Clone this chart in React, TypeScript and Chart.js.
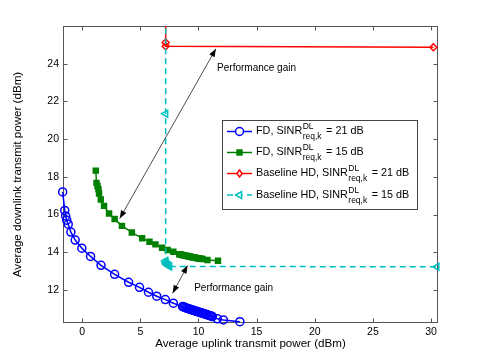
import React, { useEffect, useRef } from "react";
import { Chart, registerables } from "chart.js";

Chart.register(...registerables);

// ---- data ----
const xTicks = [0, 5, 10, 15, 20, 25, 30];
const yTicks = [12, 14, 16, 18, 20, 22, 24];

const fd21X = [-1.68, -1.5, -1.42, -1.33, -1.2, -0.97, -0.6, -0.03, 0.72, 1.62, 2.79, 3.99, 4.93, 5.7, 6.41, 7.15, 7.84,
  8.63, 8.73, 8.83, 8.93, 9.03, 9.13, 9.23, 9.33, 9.43, 9.53, 9.63, 9.73, 9.83, 9.93, 10.03, 10.13, 10.23, 10.33, 10.43,
  10.53, 10.63, 10.73, 10.83, 10.93, 11.03, 11.13, 11.2, 11.62, 12.14, 13.56];
const fd21Y = [17.2, 16.22, 15.93, 15.7, 15.49, 15.07, 14.65, 14.22, 13.78, 13.31, 12.83, 12.41, 12.14, 11.88, 11.67, 11.49, 11.3,
  11.12, 11.1, 11.08, 11.05, 11.03, 11.01, 10.99, 10.97, 10.95, 10.93, 10.91, 10.89, 10.87, 10.85, 10.83, 10.81, 10.79, 10.77, 10.75,
  10.73, 10.71, 10.69, 10.67, 10.65, 10.63, 10.61, 10.59, 10.47, 10.41, 10.32];

const fd15X = [1.17, 1.23, 1.32, 1.4, 1.45, 1.6, 1.88, 2.31, 2.79, 3.42, 4.27, 5.16, 5.79, 6.3, 6.87, 7.35, 7.84,
  8.35, 8.45, 8.55, 8.65, 8.75, 8.85, 8.95, 9.05, 9.15, 9.25, 9.35, 9.45, 9.55, 9.65, 9.75, 9.85, 9.95, 10.05, 10.15,
  10.25, 10.34, 10.77, 11.68];
const fd15Y = [18.33, 17.68, 17.52, 17.34, 17.12, 16.8, 16.46, 16.06, 15.76, 15.4, 15.05, 14.74, 14.56, 14.42, 14.24, 14.12, 14.03,
  13.9, 13.88, 13.87, 13.85, 13.84, 13.82, 13.81, 13.8, 13.78, 13.77, 13.76, 13.74, 13.73, 13.72, 13.71, 13.69, 13.68, 13.67, 13.66,
  13.65, 13.64, 13.59, 13.55];

const hd21X = [7.18, 7.18, 7.18, 30.2];
const hd21Y = [28, 25.12, 24.93, 24.87];

const hd15X = [7.18, 7.18, 7.18, 7.2, 7.25, 7.32, 7.42, 7.52, 30.5];
const hd15Y = [28, 21.35, 13.55, 13.46, 13.38, 13.32, 13.28, 13.25, 13.23];

const legendPrefix = ["FD, SINR", "FD, SINR", "Baseline HD, SINR", "Baseline HD, SINR"];
const legendSup = "DL";
const legendSub = "req,k";
const legendSuffix = [" = 21 dB", " = 15 dB", " = 21 dB", " = 15 dB"];

const arrowFrom = [[3.23, 15.79], [7.78, 11.83]];
const arrowTo = [[11.5, 24.79], [9.06, 13.3]];
const gainText = "Performance gain";
const gainPos = [[11.6, 23.75], [9.63, 12.1]];

const xTitle = "Average uplink transmit power (dBm)";
const yTitle = "Average downlink transmit power (dBm)";

// ---- styles ----
const FONT = "'Liberation Sans', Arial, Helvetica, sans-serif";
const colors = ["#0000ff", "#008000", "#ff0000", "#00bfbf"];
const styles = ["circle", "rect", "rectRot", "triangle"];
const radii = [4, 3.5, 3.5, 4];
const rotations = [0, 0, 0, -90];
const dashes = [[], [], [], [6, 4]];

const toPts = (xs: number[], ys: number[]) => xs.map((v, i) => ({ x: v, y: ys[i] }));

function drawMarker(ctx: CanvasRenderingContext2D, style: string, x: number, y: number, r: number, color: string, fill: string) {
  ctx.save();
  ctx.strokeStyle = color;
  ctx.fillStyle = fill;
  ctx.lineWidth = 1.5;
  ctx.setLineDash([]);
  ctx.beginPath();
  if (style === "circle") {
    ctx.arc(x, y, r, 0, Math.PI * 2);
  } else if (style === "rect") {
    const s = r * Math.SQRT1_2;
    ctx.rect(x - s, y - s, 2 * s, 2 * s);
  } else if (style === "rectRot") {
    ctx.moveTo(x, y - r);
    ctx.lineTo(x + r * 0.75, y);
    ctx.lineTo(x, y + r);
    ctx.lineTo(x - r * 0.75, y);
    ctx.closePath();
  } else {
    ctx.moveTo(x - r, y);
    ctx.lineTo(x + r * 0.5, y - r * 0.87);
    ctx.lineTo(x + r * 0.5, y + r * 0.87);
    ctx.closePath();
  }
  ctx.fill();
  ctx.stroke();
  ctx.restore();
}

function drawArrowHead(ctx: CanvasRenderingContext2D, x1: number, y1: number, x2: number, y2: number) {
  const ang = Math.atan2(y2 - y1, x2 - x1);
  const len = 8, hw = 3;
  ctx.beginPath();
  ctx.moveTo(x2, y2);
  ctx.lineTo(x2 - len * Math.cos(ang) + hw * Math.sin(ang), y2 - len * Math.sin(ang) - hw * Math.cos(ang));
  ctx.lineTo(x2 - len * Math.cos(ang) - hw * Math.sin(ang), y2 - len * Math.sin(ang) + hw * Math.cos(ang));
  ctx.closePath();
  ctx.fill();
}

const decor = {
  id: "decor",
  beforeDatasetsDraw(chart: any) {
    const { ctx, chartArea: a, scales } = chart;
    const xs = scales.x, ys = scales.y;
    ctx.save();
    ctx.strokeStyle = "#555";
    ctx.lineWidth = 1;
    const L = Math.round(a.left) + 0.5, R = Math.round(a.right) - 0.5;
    const T = Math.round(a.top) + 0.5, B = Math.round(a.bottom) - 0.5;
    ctx.strokeRect(L, T, R - L, B - T);
    ctx.beginPath();
    xTicks.forEach((v) => {
      const px = Math.round(xs.getPixelForValue(v)) + 0.5;
      ctx.moveTo(px, B); ctx.lineTo(px, B - 4);
      ctx.moveTo(px, T); ctx.lineTo(px, T + 4);
    });
    yTicks.forEach((v) => {
      const py = Math.round(ys.getPixelForValue(v)) + 0.5;
      ctx.moveTo(L, py); ctx.lineTo(L + 4, py);
      ctx.moveTo(R, py); ctx.lineTo(R - 4, py);
    });
    ctx.stroke();
    ctx.restore();
  },
  afterDraw(chart: any) {
    const { ctx, scales } = chart;
    const xs = scales.x, ys = scales.y;
    ctx.save();
    arrowFrom.forEach((f, i) => {
      const t = arrowTo[i];
      const x1 = xs.getPixelForValue(f[0]), y1 = ys.getPixelForValue(f[1]);
      const x2 = xs.getPixelForValue(t[0]), y2 = ys.getPixelForValue(t[1]);
      ctx.strokeStyle = "#222";
      ctx.fillStyle = "#000";
      ctx.lineWidth = 0.8;
      ctx.beginPath();
      ctx.moveTo(x1, y1);
      ctx.lineTo(x2, y2);
      ctx.stroke();
      drawArrowHead(ctx, x1, y1, x2, y2);
      drawArrowHead(ctx, x2, y2, x1, y1);
    });
    ctx.fillStyle = "#000";
    ctx.font = `10px ${FONT}`;
    ctx.textAlign = "left";
    ctx.textBaseline = "middle";
    gainPos.forEach((p) => {
      ctx.fillText(gainText, xs.getPixelForValue(p[0]), ys.getPixelForValue(p[1]));
    });
    // legend
    const bx = 222, by = 120, bw = 195, bh = 89;
    ctx.fillStyle = "#fff";
    ctx.fillRect(bx, by, bw, bh);
    ctx.strokeStyle = "#444";
    ctx.lineWidth = 1;
    ctx.strokeRect(bx + 0.5, by + 0.5, bw, bh);
    const rowY = [131.5, 152.5, 173.5, 195];
    rowY.forEach((ry, i) => {
      ctx.save();
      ctx.strokeStyle = colors[i];
      ctx.lineWidth = 1.5;
      ctx.setLineDash(dashes[i]);
      ctx.beginPath();
      ctx.moveTo(227, ry);
      ctx.lineTo(252, ry);
      ctx.stroke();
      ctx.restore();
      drawMarker(ctx, styles[i], 239.5, ry, radii[i], colors[i], i === 1 ? colors[i] : "#fff");
      ctx.fillStyle = "#000";
      ctx.textBaseline = "middle";
      ctx.font = `10.8px ${FONT}`;
      let tx = 256;
      ctx.fillText(legendPrefix[i], tx, ry);
      tx += ctx.measureText(legendPrefix[i]).width + 0.5;
      ctx.font = `8.5px ${FONT}`;
      ctx.fillText(legendSup, tx, ry - 4.5);
      ctx.fillText(legendSub, tx, ry + 5.5);
      const w = Math.max(ctx.measureText(legendSup).width, ctx.measureText(legendSub).width);
      tx += w + 1.5;
      ctx.font = `10.8px ${FONT}`;
      ctx.fillText(legendSuffix[i], tx, ry);
    });
    ctx.restore();
  },
};

export default function App() {
  const ref = useRef<HTMLCanvasElement | null>(null);
  useEffect(() => {
    if (!ref.current) return;
    const series = [toPts(fd21X, fd21Y), toPts(fd15X, fd15Y), toPts(hd21X, hd21Y), toPts(hd15X, hd15Y)];
    const orders = [3, 2, 1, 0];
    const datasets = series.map((d, i) => ({
      data: d,
      showLine: true,
      borderColor: colors[i],
      backgroundColor: i === 1 ? colors[i] : "rgba(255,255,255,0)",
      borderWidth: 1.5,
      borderDash: dashes[i],
      pointStyle: styles[i],
      pointRadius: radii[i],
      pointRotation: rotations[i],
      pointBorderWidth: 1.5,
      pointBorderColor: colors[i],
      pointBackgroundColor: i === 1 ? colors[i] : "rgba(255,255,255,0)",
      order: orders[i],
      clip: { left: 10, right: 10, top: 0, bottom: 10 },
    }));
    const chart = new Chart(ref.current, {
      type: "scatter",
      data: { datasets },
      options: {
        responsive: false,
        animation: false,
        devicePixelRatio: 1,
        layout: { padding: { top: 26, right: 47, left: 0, bottom: 0 } },
        plugins: { legend: { display: false }, tooltip: { enabled: false } },
        scales: {
          x: {
            type: "linear",
            min: -1.65,
            max: 30.6,
            grid: { display: false, drawTicks: false },
            border: { display: false },
            afterBuildTicks: (s: any) => { s.ticks = xTicks.map((v) => ({ value: v })); },
            afterFit: (s: any) => { s.height = 40; },
            ticks: { color: "#000", font: { family: FONT, size: 10.5 }, padding: 3, maxRotation: 0, autoSkip: false },
            title: { display: true, text: xTitle, color: "#000", font: { family: FONT, size: 11.6 }, padding: { top: 0, bottom: 12 } },
          },
          y: {
            type: "linear",
            min: 10.25,
            max: 26,
            grid: { display: false, drawTicks: false },
            border: { display: false },
            afterBuildTicks: (s: any) => { s.ticks = yTicks.map((v) => ({ value: v })); },
            afterFit: (s: any) => { s.width = 63; },
            ticks: { color: "#000", font: { family: FONT, size: 10.5 }, padding: 4, autoSkip: false },
            title: { display: true, text: yTitle, color: "#000", font: { family: FONT, size: 11.6 }, padding: { top: 11, bottom: 0 } },
          },
        },
      },
      plugins: [decor],
    } as any);
    return () => chart.destroy();
  }, []);
  return (
    <div style={{ position: "absolute", left: 0, top: 0, width: 485, height: 363, background: "#fff" }}>
      <canvas ref={ref} width={485} height={363} style={{ width: 485, height: 363, display: "block" }} />
    </div>
  );
}
